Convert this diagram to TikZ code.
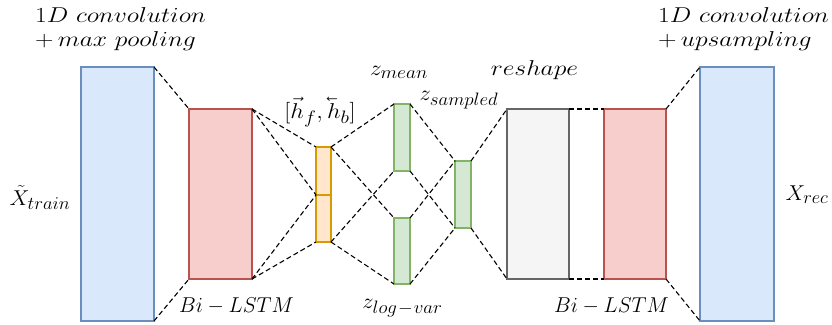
\RequirePackage{fix-cm}
\documentclass[tikz,border=0pt]{standalone}
\usepackage{amsmath}
\newcommand\wt[2][1.19]{\scalebox{#1}[1]{#2}}
\newcommand\lvec[1]{\reflectbox{$\vec{\reflectbox{$#1$}}$}}
\newcommand\sbs[1]{_{\hbox{\fontsize{18}{20}\selectfont$#1$}}}
\begin{document}
\begin{tikzpicture}[x=1pt,y=-1pt,
  box/.style={draw,line width=1.3pt,inner sep=0pt,outer sep=0pt},
  lab/.style={inner sep=0pt,font=\fontsize{21.5}{25}\selectfont},
  dl/.style={line width=1.1pt,dash pattern=on 5pt off 3pt}]
\definecolor{bstroke}{RGB}{108,142,191}
\definecolor{bfill}{RGB}{218,232,252}
\definecolor{rstroke}{RGB}{184,84,80}
\definecolor{rfill}{RGB}{248,206,204}
\definecolor{ostroke}{RGB}{215,155,0}
\definecolor{ofill}{RGB}{255,230,204}
\definecolor{gstroke}{RGB}{130,179,102}
\definecolor{gfill}{RGB}{213,232,212}
\definecolor{kstroke}{RGB}{102,102,102}
\definecolor{kfill}{RGB}{245,245,245}
\tikzset{
  blu/.style={box,draw=bstroke,fill=bfill},
  red/.style={box,draw=rstroke,fill=rfill},
  org/.style={box,draw=ostroke,fill=ofill},
  grn/.style={box,draw=gstroke,fill=gfill},
  gry/.style={box,draw=kstroke,fill=kfill}}
\useasboundingbox (0,0) rectangle (832,324);
% boxes
\node[blu,minimum width=73pt,minimum height=254pt] (b1) at (117.5,194) {};
\node[red,minimum width=63pt,minimum height=170pt] (r1) at (220.5,194) {};
\node[org,minimum width=15pt,minimum height=48pt] (o1) at (323.5,171) {};
\node[org,minimum width=15pt,minimum height=47pt] (o2) at (323.5,218.5) {};
\node[grn,minimum width=16pt,minimum height=67pt] (zm) at (402,137.5) {};
\node[grn,minimum width=16pt,minimum height=66pt] (zl) at (402,251) {};
\node[grn,minimum width=16pt,minimum height=67pt] (zs) at (463,194.5) {};
\node[gry,minimum width=62pt,minimum height=170pt] (g) at (538,194) {};
\node[red,minimum width=62pt,minimum height=170pt] (r2) at (635,194) {};
\node[blu,minimum width=74pt,minimum height=254pt] (b2) at (737,194) {};
% dashed connectors
\draw[dl] (b1.north east) -- (r1.north west);
\draw[dl] (b1.south east) -- (r1.south west);
\draw[dl] (r1.north east) -- (o1.north west);
\draw[dl] (r1.north east) -- (o1.south west);
\draw[dl] (r1.south east) -- (o2.north west);
\draw[dl] (r1.south east) -- (o2.south west);
\draw[dl] (o1.north east) -- (zm.north west);
\draw[dl] (o1.north east) -- (zl.north west);
\draw[dl] (o2.south east) -- (zm.south west);
\draw[dl] (o2.south east) -- (zl.south west);
\draw[dl] (zm.north east) -- (zs.north west);
\draw[dl] (zm.south east) -- (zs.south west);
\draw[dl] (zl.north east) -- (zs.north west);
\draw[dl] (zl.south east) -- (zs.south west);
\draw[dl] (zs.north east) -- (g.north west);
\draw[dl] (zs.south east) -- (g.south west);
\draw[dl] (g.north east) -- (r2.north west);
\draw[dl] (g.south east) -- (r2.south west);
\draw[dl] (r2.north east) -- (b2.north west);
\draw[dl] (r2.south east) -- (b2.south west);
% labels
\node[lab,anchor=base west] (t1) at (35,23) {\wt{$1D\ convolution$}};
\node[lab,anchor=base west] (t2) at (35,46) {\wt{$+\,max\ pooling$}};
\node[lab,anchor=base west] (t3) at (658,23) {\wt{$1D\ convolution$}};
\node[lab,anchor=base west] (t4) at (658,46) {\wt{$+\,upsampling$}};
\node[lab,anchor=base] (xt) at (40,205) {\wt[1.04]{$\tilde{X}\sbs{train}$}};
\node[lab,anchor=base] (xr) at (807,200) {\wt[1.02]{$X\sbs{rec}$}};
\node[lab,anchor=base] (bl1) at (236.5,312) {\wt[0.98]{$Bi-LSTM$}};
\node[lab,anchor=base] (bl2) at (611.5,312) {\wt[0.98]{$Bi-LSTM$}};
\node[lab,anchor=base] (hh) at (320,118) {\wt[1.12]{$[\vec{h}\sbs{f},\lvec{h}\sbs{b}]$}};
\node[lab,anchor=base] (lm) at (399,75) {\wt[1.08]{$z\sbs{mean}$}};
\node[lab,anchor=base] (ls) at (459,100) {\wt[1.05]{$z\sbs{sampled}$}};
\node[lab,anchor=base] (ll) at (402.5,308) {\wt[1.05]{$z\sbs{log\!-\!var}$}};
\node[lab,anchor=base] (lr) at (534.5,75) {\wt{$reshape$}};
\end{tikzpicture}
\end{document}
